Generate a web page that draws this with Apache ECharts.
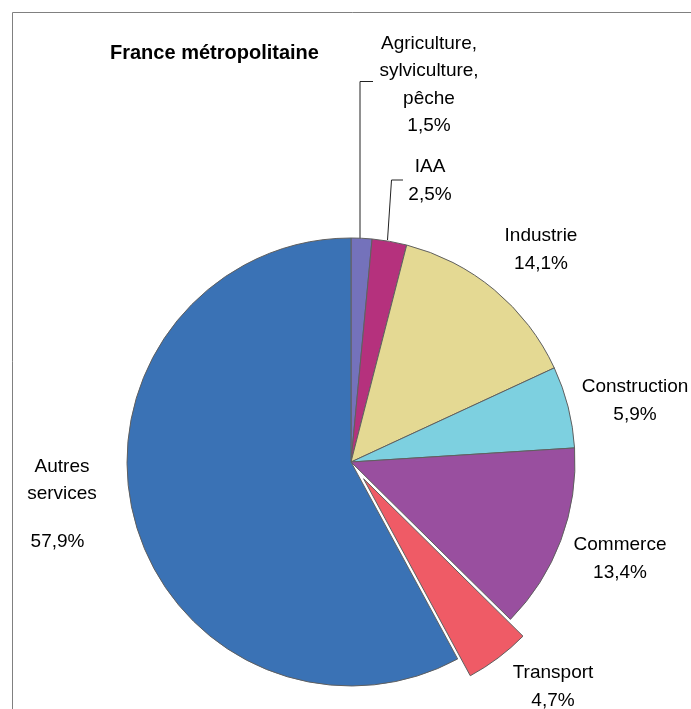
<!DOCTYPE html>
<html>
<head>
<meta charset="utf-8">
<script src="https://cdn.jsdelivr.net/npm/echarts@6/dist/echarts.min.js"></script>
<style>html,body{margin:0;padding:0;background:#fff;}#c{width:691px;height:709px;}</style>
</head>
<body>
<div id="c"></div>
<script>
// Data
var categories = ['Agriculture,\nsylviculture,\npêche', 'IAA', 'Industrie', 'Construction', 'Commerce', 'Transport', 'Autres\nservices'];
var values = [1.5, 2.5, 14.1, 5.9, 13.4, 4.7, 57.9];
var explodedCategory = 'Transport';
var title = 'France métropolitaine';

// Styles / layout (not data)
var colors = ['#7472bb', '#b5317d', '#e4d993', '#7dd0e0', '#994f9f', '#ef5b66', '#3a72b5'];
var labelCenters = [[429, 85], [430, 181], [541, 250], [635, 401], [620, 559], [553, 687], [62, 515]];
var leaderLines = {
  0: [[360, 240], [360, 81.5], [373, 81.5]],
  1: [[387.5, 240], [391.5, 180], [403, 180]]
};
var PIE_CENTER = [351, 462];
var PIE_RADIUS = 224;
var EXPLODE = 21;
var FONT = '"Liberation Sans", Arial, sans-serif';

function fmt(v) { return String(v).replace('.', ',') + '%'; }

var total = values.reduce(function (a, b) { return a + b; }, 0);
var explodedIndex = categories.indexOf(explodedCategory);
var before = 0;
for (var k = 0; k < explodedIndex; k++) before += values[k];
var midA = (before + values[explodedIndex] / 2) / total * 2 * Math.PI;
var explodedCenter = [PIE_CENTER[0] + EXPLODE * Math.sin(midA), PIE_CENTER[1] - EXPLODE * Math.cos(midA)];

var border = { borderColor: '#606060', borderWidth: 1 };

var mainData = categories.map(function (c, i) {
  var item = {
    name: c,
    value: values[i],
    itemStyle: i === explodedIndex ? { color: 'rgba(0,0,0,0)', borderWidth: 0 } : { color: colors[i] },
    labelLine: { show: !!leaderLines[i] }
  };
  if (i === categories.length - 1) {
    item.label = {
      formatter: function (p) {
        var parts = p.name.split('\n');
        return parts.map(function (s) { return '{t|' + s + '}'; }).join('\n') + '\n{p|' + fmt(p.value) + '}';
      }
    };
  }
  return item;
});

var explodedData = categories.map(function (c, i) {
  return {
    name: c,
    value: values[i],
    itemStyle: i === explodedIndex ? { color: colors[i] } : { color: 'rgba(0,0,0,0)', borderWidth: 0 }
  };
});

var chart = echarts.init(document.getElementById('c'), null, { renderer: 'canvas' });
chart.setOption({
  animation: false,
  backgroundColor: '#ffffff',
  title: {
    text: title,
    left: 110,
    top: 43,
    padding: 0,
    textStyle: { fontFamily: FONT, fontSize: 20, fontWeight: 'bold', color: '#000' }
  },
  graphic: [{
    type: 'rect',
    shape: { x: 12.5, y: 12.5, width: 800, height: 800 },
    style: { fill: 'none', stroke: '#808080', lineWidth: 1 },
    silent: true,
    z: -1
  }],
  series: [{
    type: 'pie',
    center: PIE_CENTER,
    radius: PIE_RADIUS,
    startAngle: 90,
    clockwise: true,
    avoidLabelOverlap: false,
    emphasis: { disabled: true },
    itemStyle: border,
    label: {
      show: true,
      position: 'outside',
      fontFamily: FONT,
      fontSize: 19,
      color: '#000',
      lineHeight: 27.5,
      align: 'center',
      formatter: function (p) { return p.name + '\n' + fmt(p.value); },
      rich: {
        t: { fontFamily: FONT, fontSize: 19, lineHeight: 27, color: '#000', align: 'center' },
        p: { fontFamily: FONT, fontSize: 19, lineHeight: 69, color: '#000', align: 'center', padding: [0, 9, 0, 0] }
      }
    },
    labelLine: { show: true, lineStyle: { color: '#222', width: 1 } },
    labelLayout: function (params) {
      var i = params.dataIndex;
      var res = { x: labelCenters[i][0], y: labelCenters[i][1], align: 'center', verticalAlign: 'middle' };
      if (leaderLines[i]) res.labelLinePoints = leaderLines[i];
      return res;
    },
    data: mainData
  }, {
    type: 'pie',
    center: explodedCenter,
    radius: PIE_RADIUS,
    startAngle: 90,
    clockwise: true,
    silent: true,
    emphasis: { disabled: true },
    itemStyle: border,
    label: { show: false },
    labelLine: { show: false },
    data: explodedData
  }]
});
</script>
</body>
</html>
